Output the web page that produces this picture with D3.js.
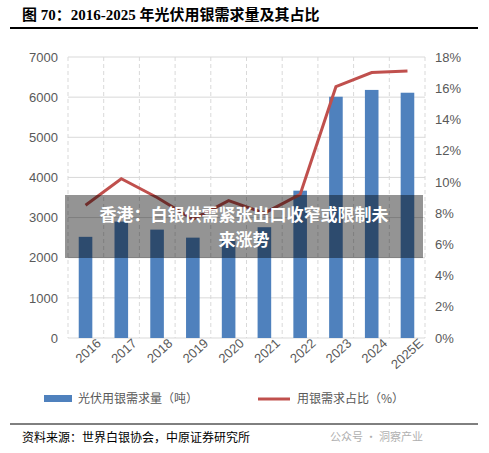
<!DOCTYPE html>
<html><head><meta charset="utf-8">
<script src="https://cdn.jsdelivr.net/npm/d3@7"></script>
<style>body{margin:0;background:#fff;font-family:"Liberation Serif","Noto Sans CJK SC",serif}</style>
</head><body><div id="chart"></div>
<script>
const years = ["2016","2017","2018","2019","2020","2021","2022","2023","2024","2025E"];
const demand = [2520, 2900, 2700, 2500, 2450, 2760, 3670, 6010, 6180, 6110];
const share = [8.5, 10.2, 9.0, 7.6, 8.8, 8.0, 9.2, 16.1, 17.0, 17.1];
const leftTicks = [0,1000,2000,3000,4000,5000,6000,7000];
const rightTicks = [0,2,4,6,8,10,12,14,16,18];

(function () {
const W = 489, H = 453;
const svg = d3.select('#chart').append('svg').attr('width', W).attr('height', H);
const cjk = '"Noto Sans CJK SC",sans-serif';

svg.append('text').attr('x', 22).attr('y', 20).attr('font-size', 15).attr('font-weight', 'bold')
  .attr('font-family', '"Liberation Serif","Noto Sans CJK SC",serif').text('图 70：2016-2025 年光伏用银需求量及其占比');
svg.append('line').attr('x1', 10).attr('x2', 478).attr('y1', 28).attr('y2', 28).attr('stroke', '#000').attr('stroke-width', 2);

const pl = 68, pr = 425, pt = 57, pb = 338;
const x = d3.scaleBand().domain(years).range([pl, pr]).paddingInner(0.62).paddingOuter(0.3);
const y = d3.scaleLinear().domain([0, 7000]).range([pb, pt]);
const y2 = d3.scaleLinear().domain([0, 18]).range([pb, pt]);

const g = svg.append('g');
g.selectAll('.hg').data(leftTicks).join('line').attr('x1', pl).attr('x2', pr)
  .attr('y1', d => y(d)).attr('y2', d => y(d)).attr('stroke', '#d9d9d9');
const step = (pr - pl) / years.length;
g.selectAll('.vg').data(d3.range(years.length + 1)).join('line')
  .attr('x1', i => pl + i * step).attr('x2', i => pl + i * step)
  .attr('y1', pt).attr('y2', pb).attr('stroke', '#d9d9d9').attr('stroke-dasharray', '4,3');

g.selectAll('.bar').data(years).join('rect')
  .attr('x', d => x(d)).attr('width', x.bandwidth())
  .attr('y', (d, i) => y(demand[i])).attr('height', (d, i) => pb - y(demand[i]))
  .attr('fill', '#4f81bd');

const line = d3.line().x((d, i) => x(years[i]) + x.bandwidth() / 2).y(d => y2(d));
g.append('path').datum(share).attr('d', line).attr('fill', 'none').attr('stroke', '#c0504d').attr('stroke-width', 3);

const axL = g.append('g').attr('transform', `translate(${pl},0)`)
  .call(d3.axisLeft(y).tickValues(leftTicks).tickFormat(d3.format('d')).tickSize(0).tickPadding(10));
const axR = g.append('g').attr('transform', `translate(${pr},0)`)
  .call(d3.axisRight(y2).tickValues(rightTicks).tickFormat(d => d + '%').tickSize(0).tickPadding(10));
const axB = g.append('g').attr('transform', `translate(0,${pb})`)
  .call(d3.axisBottom(x).tickSize(0).tickPadding(8));
[axL, axR, axB].forEach(a => { a.select('.domain').remove();
  a.selectAll('text').attr('font-size', 13).attr('fill', '#595959').attr('font-family', '"Liberation Sans",sans-serif'); });
axB.selectAll('text').attr('text-anchor', 'end').attr('dx', '0.6em').attr('dy', '0.6em').attr('transform', 'rotate(-42)');

svg.append('rect').attr('x', 44).attr('y', 395).attr('width', 28).attr('height', 7).attr('fill', '#4f81bd');
svg.append('text').attr('x', 78).attr('y', 403).attr('font-size', 12).attr('font-family', cjk).attr('fill', '#595959').text('光伏用银需求量（吨）');
svg.append('line').attr('x1', 258).attr('x2', 290).attr('y1', 399).attr('y2', 399).attr('stroke', '#c0504d').attr('stroke-width', 3);
svg.append('text').attr('x', 297).attr('y', 403).attr('font-size', 12).attr('font-family', cjk).attr('fill', '#595959').text('用银需求占比（%）');

svg.append('line').attr('x1', 10).attr('x2', 478).attr('y1', 424).attr('y2', 424).attr('stroke', '#000').attr('stroke-width', 1);
svg.append('text').attr('x', 22).attr('y', 442).attr('font-size', 12).attr('font-family', cjk).attr('fill', '#000').text('资料来源：世界白银协会，中原证券研究所');
svg.append('text').attr('x', 330).attr('y', 441).attr('font-size', 11).attr('font-family', cjk).attr('fill', '#b0b0b0').text('公众号 · 洞察产业');

svg.append('rect').attr('x', 65).attr('y', 195).attr('width', 358).attr('height', 63).attr('fill', '#000').attr('opacity', 0.42);
svg.append('text').attr('x', 244).attr('y', 221).attr('text-anchor', 'middle').attr('font-size', 17).attr('font-weight', 'bold')
  .attr('font-family', cjk).attr('fill', '#fff').text('香港：白银供需紧张出口收窄或限制未');
svg.append('text').attr('x', 244).attr('y', 246).attr('text-anchor', 'middle').attr('font-size', 17).attr('font-weight', 'bold')
  .attr('font-family', cjk).attr('fill', '#fff').text('来涨势');
})();
</script></body></html>
